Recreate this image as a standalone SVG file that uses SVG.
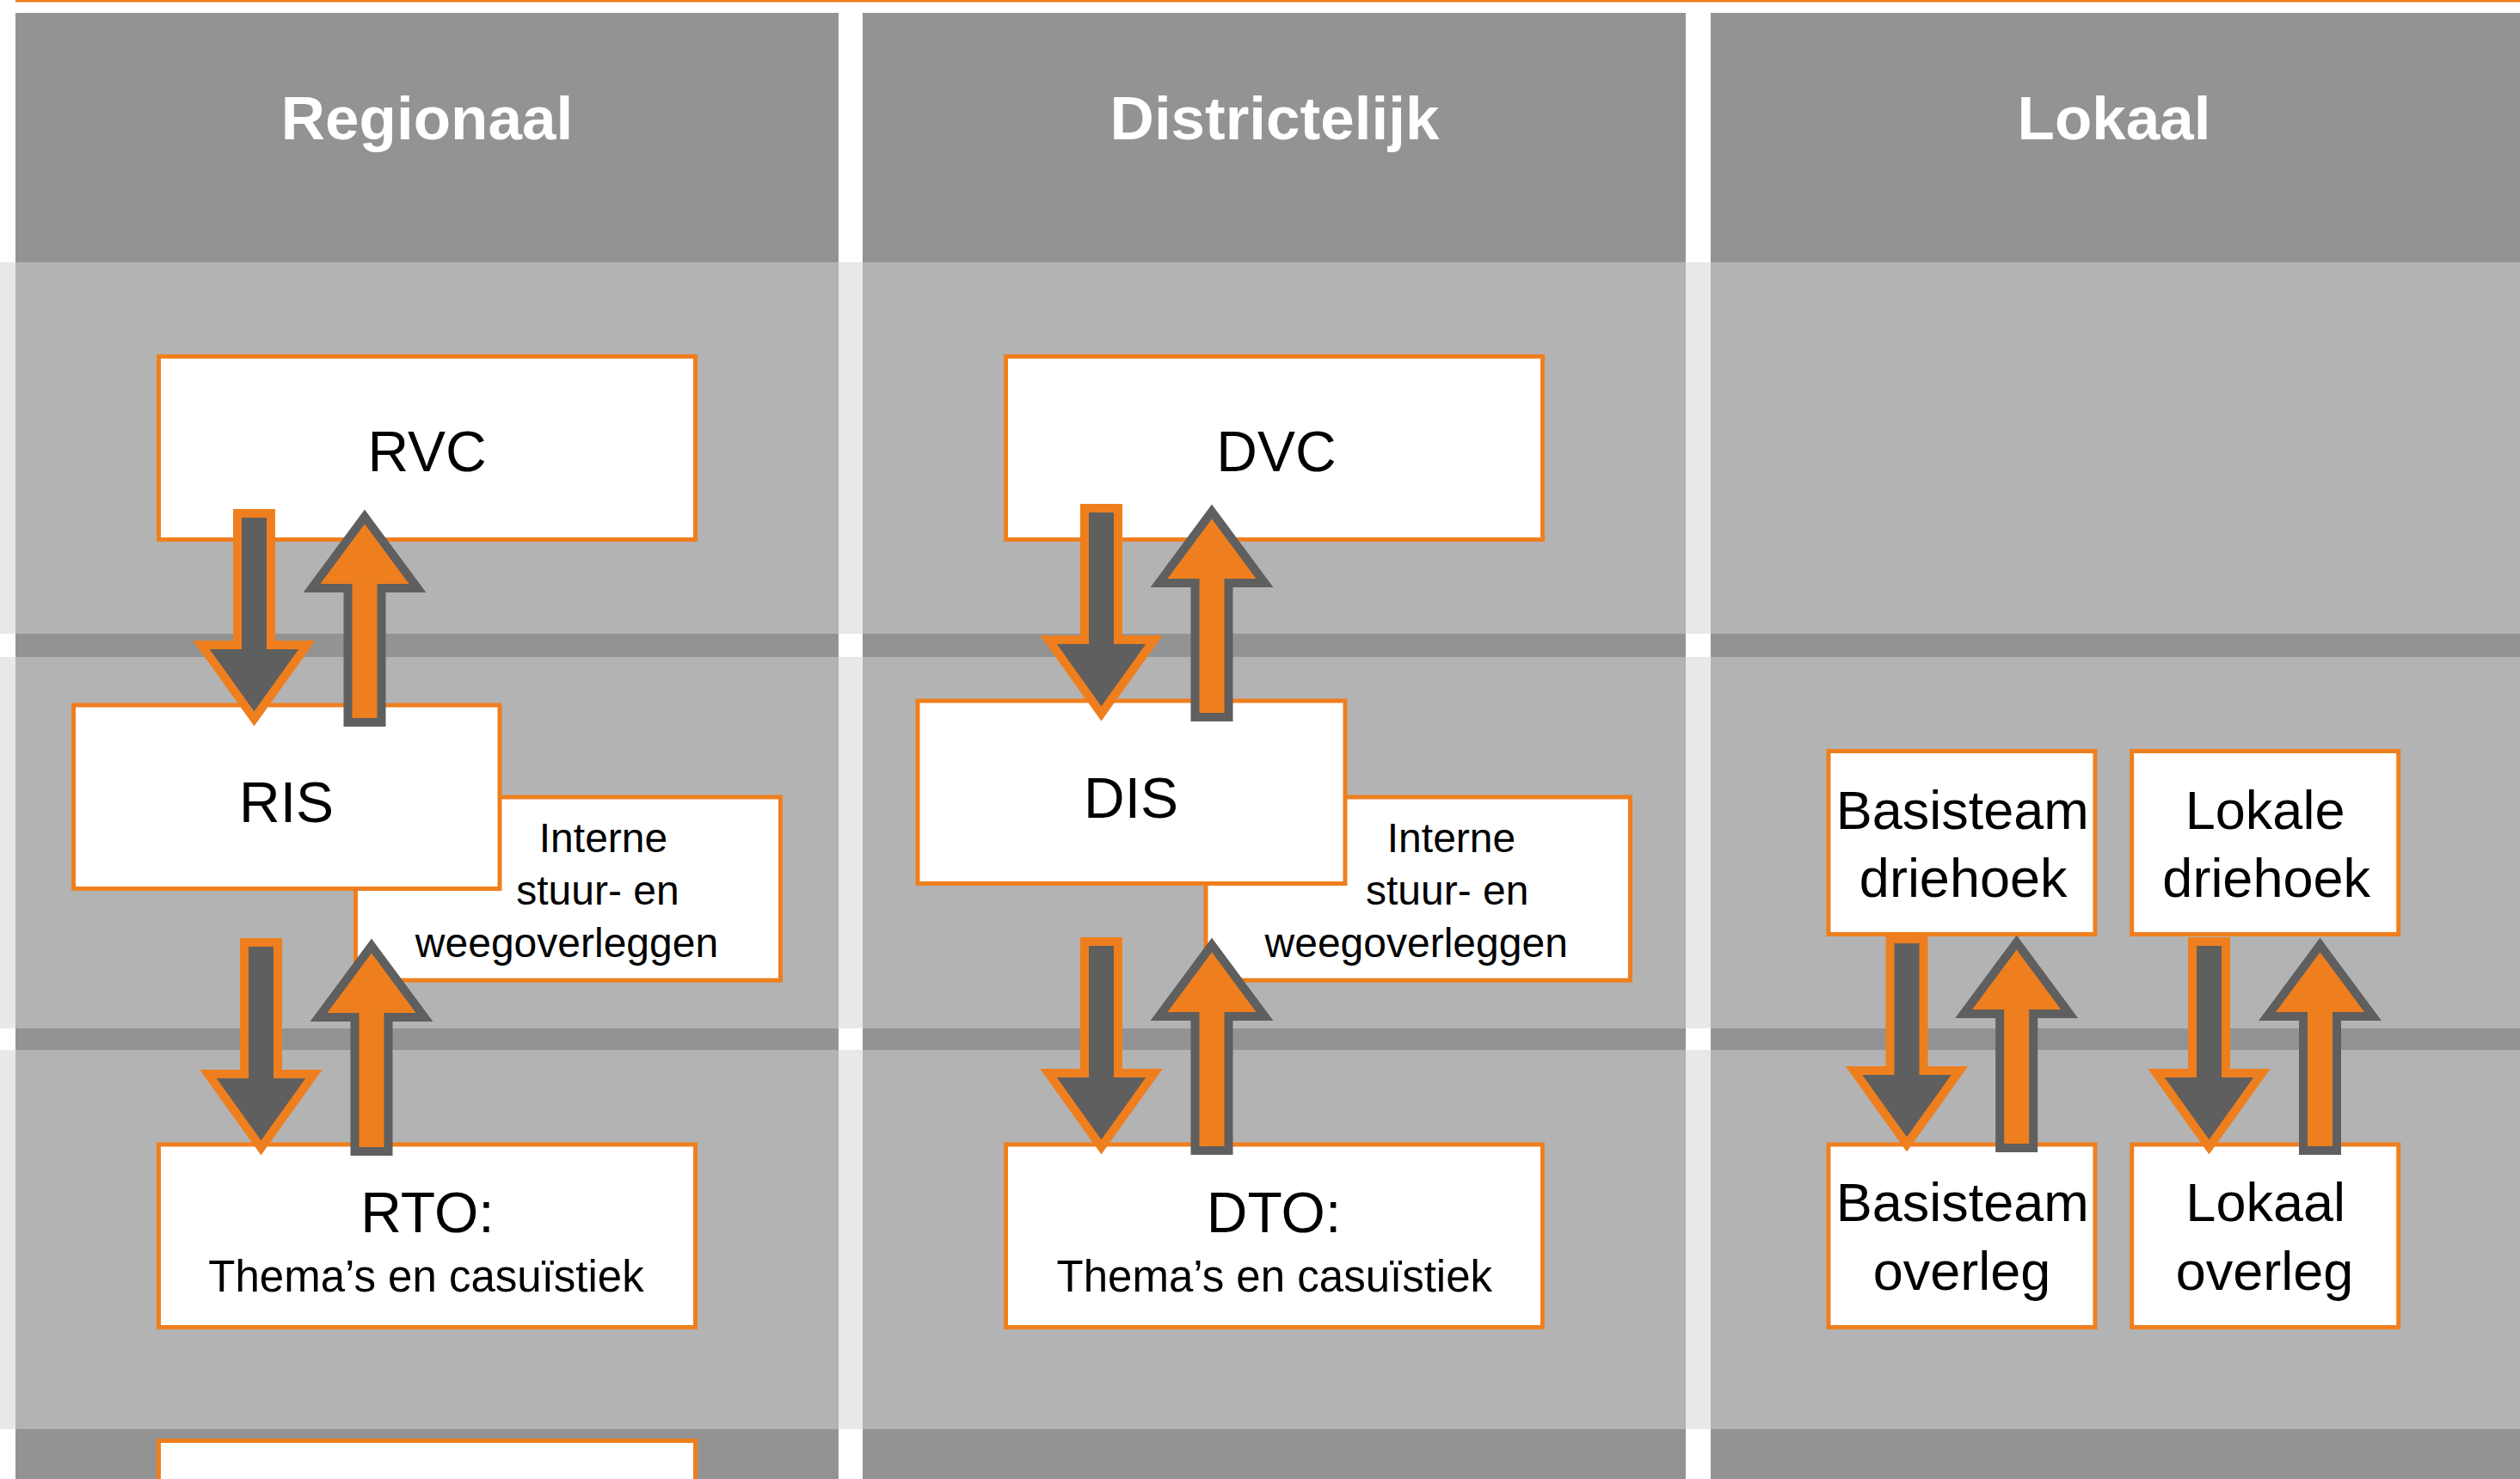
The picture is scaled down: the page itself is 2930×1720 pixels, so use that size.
<svg xmlns="http://www.w3.org/2000/svg" xmlns:xlink="http://www.w3.org/1999/xlink" width="2930" height="1720" viewBox="0 0 2930 1720">
<style>
.hdr{fill:#939393}
.row{fill:#b3b3b3}
.box{fill:#ffffff;stroke:#ef7f1e;stroke-width:5}
.ht{font-family:"Liberation Sans",Arial,sans-serif;font-weight:bold;font-size:71px;fill:#ffffff;text-anchor:middle}
.big{font-family:"Liberation Sans",Arial,sans-serif;font-size:66px;fill:#000000;text-anchor:middle}
.mid{font-family:"Liberation Sans",Arial,sans-serif;font-size:63px;fill:#000000;text-anchor:middle}
.sm{font-family:"Liberation Sans",Arial,sans-serif;font-size:51px;fill:#000000;text-anchor:middle}
.xs{font-family:"Liberation Sans",Arial,sans-serif;font-size:48px;fill:#000000;text-anchor:middle}
.dn{fill:#5f5f5f;stroke:#ef7f1e;stroke-width:10;stroke-linejoin:miter;stroke-miterlimit:6}
.up{fill:#ef7f1e;stroke:#5f5f5f;stroke-width:10;stroke-linejoin:miter;stroke-miterlimit:6}
</style>
<defs>
<path id="arrowDown" d="M-19.5,0 H19.5 V153 H61.5 L0,239 L-61.5,153 H-19.5 Z"/>
<path id="arrowUp" d="M0,0 L61.5,83 H19.5 V239 H-19.5 V83 H-61.5 Z"/>
</defs>
<rect x="0" y="0" width="2930" height="1720" fill="#ffffff"/>
<g id="background">
<rect x="18" y="0" width="2912" height="2.5" fill="#ef7f1e"/>
<rect x="0" y="305" width="2930" height="1357" fill="#e8e8e8"/>
<rect x="0" y="737" width="2930" height="27" fill="#ffffff"/>
<rect x="0" y="1196" width="2930" height="25" fill="#ffffff"/>
<rect class="hdr" x="18" y="15" width="957" height="1705"/>
<rect class="hdr" x="1003" y="15" width="957" height="1705"/>
<rect class="hdr" x="1989" y="15" width="941" height="1705"/>
<rect class="row" x="18" y="305" width="957" height="432"/>
<rect class="row" x="18" y="764" width="957" height="432"/>
<rect class="row" x="18" y="1221" width="957" height="441"/>
<rect class="row" x="1003" y="305" width="957" height="432"/>
<rect class="row" x="1003" y="764" width="957" height="432"/>
<rect class="row" x="1003" y="1221" width="957" height="441"/>
<rect class="row" x="1989" y="305" width="941" height="432"/>
<rect class="row" x="1989" y="764" width="941" height="432"/>
<rect class="row" x="1989" y="1221" width="941" height="441"/>
<text class="ht" x="496.5" y="162">Regionaal</text>
<text class="ht" x="1482" y="162">Districtelijk</text>
<text class="ht" x="2458" y="162">Lokaal</text>
</g>
<g id="interne-regionaal">
<rect class="box" x="413.5" y="927" width="494" height="213"/>
<text class="xs" x="701.5" y="990.7">Interne</text>
<text class="xs" x="695" y="1051.7">stuur- en</text>
<text class="xs" x="659" y="1113.3">weegoverleggen</text>
</g>
<g id="interne-districtelijk">
<rect class="box" x="1402" y="927" width="493.5" height="213"/>
<text class="xs" x="1687.5" y="990.7">Interne</text>
<text class="xs" x="1682.7" y="1051.7">stuur- en</text>
<text class="xs" x="1646.7" y="1113.3">weegoverleggen</text>
</g>
<g id="rvc">
<rect class="box" x="184.5" y="414.5" width="624" height="213"/>
<text class="big" x="496.5" y="548">RVC</text>
</g>
<g id="ris">
<rect class="box" x="85.5" y="820" width="495.5" height="213.5"/>
<text class="big" x="333" y="956">RIS</text>
</g>
<g id="rto">
<rect class="box" x="184.5" y="1331" width="624" height="212.5"/>
<text class="big" x="497" y="1432.7">RTO:</text>
<text class="sm" x="495.5" y="1502.3">Thema’s en casuïstiek</text>
</g>
<g id="regionaal-bottom">
<rect class="box" x="184.5" y="1675.5" width="624" height="100"/>
</g>
<g id="dvc">
<rect class="box" x="1169.5" y="414.5" width="624" height="213"/>
<text class="big" x="1484" y="548">DVC</text>
</g>
<g id="dis">
<rect class="box" x="1067" y="815" width="497" height="212.5"/>
<text class="big" x="1315" y="951">DIS</text>
</g>
<g id="dto">
<rect class="box" x="1169.5" y="1331" width="624" height="212.5"/>
<text class="big" x="1481" y="1432.7">DTO:</text>
<text class="sm" x="1481.8" y="1502.3">Thema’s en casuïstiek</text>
</g>
<g id="basisteam-driehoek">
<rect class="box" x="2126" y="873.5" width="310" height="213"/>
<text class="mid" x="2281.8" y="963.7">Basisteam</text>
<text class="mid" x="2282.7" y="1043.3">driehoek</text>
</g>
<g id="lokale-driehoek">
<rect class="box" x="2478.7" y="873.5" width="310" height="213"/>
<text class="mid" x="2633.6" y="963.7">Lokale</text>
<text class="mid" x="2635.2" y="1043.3">driehoek</text>
</g>
<g id="basisteam-overleg">
<rect class="box" x="2126" y="1331" width="310" height="212.5"/>
<text class="mid" x="2281.8" y="1420">Basisteam</text>
<text class="mid" x="2281" y="1500">overleg</text>
</g>
<g id="lokaal-overleg">
<rect class="box" x="2478.7" y="1331" width="310" height="212.5"/>
<text class="mid" x="2634.2" y="1420">Lokaal</text>
<text class="mid" x="2633" y="1500">overleg</text>
</g>
<g id="connectors">
<use href="#arrowDown" xlink:href="#arrowDown" class="dn" transform="translate(295.5,597)"/>
<use href="#arrowUp" xlink:href="#arrowUp" class="up" transform="translate(424,601)"/>
<use href="#arrowDown" xlink:href="#arrowDown" class="dn" transform="translate(303.5,1096)"/>
<use href="#arrowUp" xlink:href="#arrowUp" class="up" transform="translate(432,1100)"/>
<use href="#arrowDown" xlink:href="#arrowDown" class="dn" transform="translate(1280.5,591)"/>
<use href="#arrowUp" xlink:href="#arrowUp" class="up" transform="translate(1409,595)"/>
<use href="#arrowDown" xlink:href="#arrowDown" class="dn" transform="translate(1280.5,1095)"/>
<use href="#arrowUp" xlink:href="#arrowUp" class="up" transform="translate(1409,1099)"/>
<use href="#arrowDown" xlink:href="#arrowDown" class="dn" transform="translate(2217,1092)"/>
<use href="#arrowUp" xlink:href="#arrowUp" class="up" transform="translate(2344.7,1096)"/>
<use href="#arrowDown" xlink:href="#arrowDown" class="dn" transform="translate(2568.5,1095)"/>
<use href="#arrowUp" xlink:href="#arrowUp" class="up" transform="translate(2697.5,1099)"/>
</g>
</svg>
